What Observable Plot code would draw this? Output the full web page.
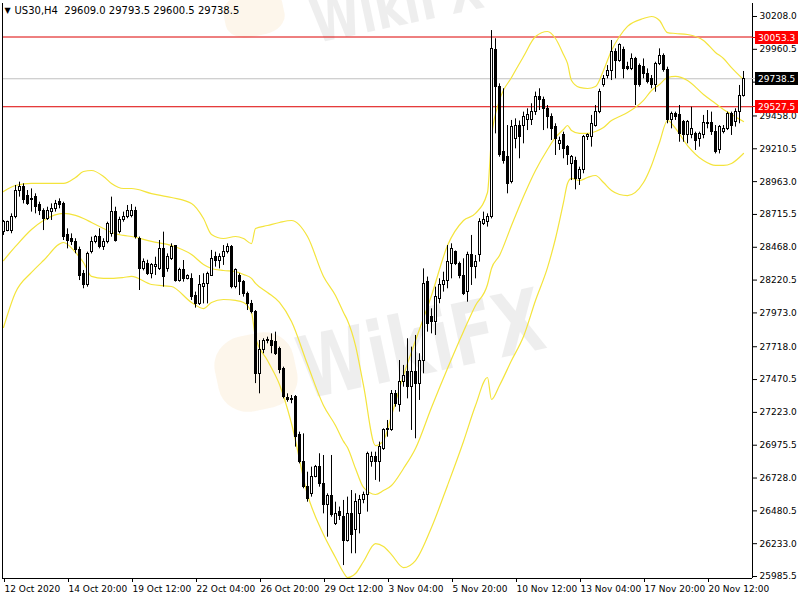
<!DOCTYPE html>
<html>
<head>
<meta charset="utf-8">
<script src="https://cdn.jsdelivr.net/npm/d3@7"></script>
<script src="https://cdn.jsdelivr.net/npm/@observablehq/plot@0.6"></script>
<style>
  html, body { margin: 0; padding: 0; background: #fff; }
  #chart { position: relative; width: 800px; height: 600px; overflow: hidden; background: #fff; }
  #chart svg { position: absolute; left: 0; top: 0; }
  .wm { position: absolute; font-family: "DejaVu Sans", sans-serif; font-weight: bold; color: #7a7a7a; opacity: 0.12; white-space: nowrap; transform-origin: left bottom; }
  .wm-logo { position: absolute; border-radius: 38%; background: #f0b85a; opacity: 0.12; }
</style>
</head>
<body>
<div id="chart">
  <div class="wm-logo" style="left:224px;top:-8px;width:60px;height:44px;transform:rotate(-12deg)"></div>
  <div class="wm" style="left:318px;top:-8px;font-size:60px;line-height:60px;transform:rotate(-12deg) scaleX(0.74)">WikiFX</div>
  <div class="wm-logo" style="left:216px;top:334px;width:80px;height:76px;transform:rotate(-12deg)"></div>
  <div class="wm" style="left:308px;top:326px;font-size:86px;line-height:86px;transform:rotate(-12deg) scaleX(0.74)">WikiFX</div>
</div>
<script>
// US30 H4 candles, 12 Oct - 24 Nov 2020
const symbol = "US30";
const timeframe = "H4";

const open = [
  28582, 28594, 28594, 28695, 28896, 28921, 28858, 28821, 28846, 28783,
  28745, 28683, 28733, 28758, 28808, 28795, 28557, 28532, 28507, 28444,
  28268, 28180, 28431, 28507, 28544, 28469, 28507, 28569, 28733, 28582,
  28670, 28695, 28700, 28745, 28532, 28305, 28343, 28268, 28318, 28305,
  28456, 28305, 28381, 28476, 28217, 28293, 28230, 28230, 28104, 28041,
  28167, 28192, 28255, 28393, 28368, 28393, 28431, 28469, 28167, 28255,
  28205, 28117, 28041, 27979, 27514, 27690, 27772, 27760, 27752, 27702,
  27551, 27333, 27325, 27338, 27049, 26848, 26659, 26609, 26735, 26810,
  26684, 26521, 26596, 26383, 26471, 26433, 26257, 26458, 26333, 26458,
  26559, 26597, 26848, 26886, 26848, 26948, 27087, 27087, 27363, 27275,
  27451, 27526, 27413, 27526, 27438, 27614, 28205, 27941, 27903, 28080,
  28180, 28217, 28343, 28431, 28343, 28255, 28130, 28406, 28318, 28406,
  28645, 28657, 28695, 29952, 29675, 29185, 29147, 28959, 29286, 29386,
  29386, 29424, 29424, 29487, 29600, 29575, 29512, 29449, 29374, 29248,
  29311, 29223, 29097, 29122, 28984, 29047, 29298, 29298, 29386, 29487,
  29688, 29763, 29800, 29939, 29876, 29952, 29826, 29813, 29888, 29838,
  29826, 29775, 29738, 29688, 29851, 29913, 29801, 29424, 29474, 29462,
  29411, 29311, 29311, 29323, 29286, 29311, 29406, 29406, 29336, 29198,
  29336, 29361, 29474, 29411, 29487, 29609.0
];
const high = [
  28670, 28665, 28720, 28934, 28959, 28946, 28896, 28908, 28871, 28808,
  28758, 28770, 28795, 28821, 28833, 28808, 28607, 28569, 28532, 28469,
  28293, 28431, 28544, 28557, 28607, 28532, 28657, 28846, 28770, 28695,
  28733, 28783, 28790, 28770, 28545, 28380, 28370, 28345, 28393, 28519,
  28582, 28418, 28494, 28481, 28310, 28368, 28260, 28268, 28130, 28255,
  28268, 28280, 28444, 28431, 28418, 28481, 28494, 28481, 28305, 28268,
  28217, 28130, 28067, 27991, 27765, 27778, 27790, 27815, 27828, 27715,
  27564, 27363, 27350, 27350, 27074, 27061, 26772, 26810, 26823, 26911,
  26898, 26609, 26898, 26546, 26509, 26559, 26584, 26634, 26609, 26597,
  26622, 26923, 26923, 26923, 26999, 27099, 27162, 27388, 27388, 27614,
  27577, 27778, 27715, 27803, 27665, 28305, 28243, 28004, 28167, 28230,
  28280, 28481, 28494, 28440, 28356, 28381, 28431, 28557, 28406, 28683,
  28733, 28720, 30102, 30040, 29700, 29663, 29386, 29424, 29436, 29420,
  29487, 29512, 29550, 29638, 29663, 29600, 29537, 29474, 29399, 29298,
  29336, 29235, 29160, 29147, 29072, 29311, 29323, 29462, 29537, 29660,
  29763, 29838, 30027, 29964, 30002, 29977, 29863, 29926, 29900, 29850,
  29888, 29813, 29763, 29863, 29964, 29926, 29826, 29487, 29487, 29537,
  29424, 29424, 29524, 29336, 29336, 29462, 29499, 29487, 29386, 29386,
  29386, 29487, 29487, 29512, 29688, 29793.5
];
const low = [
  28557, 28585, 28570, 28683, 28846, 28795, 28783, 28733, 28720, 28707,
  28594, 28670, 28670, 28733, 28758, 28519, 28456, 28481, 28419, 28217,
  28155, 28167, 28418, 28494, 28456, 28444, 28494, 28544, 28507, 28569,
  28657, 28683, 28690, 28530, 28142, 28290, 28255, 28230, 28255, 28293,
  28167, 28280, 28368, 28205, 28205, 28205, 28222, 28067, 28009, 28029,
  28041, 28041, 28248, 28318, 28305, 28331, 28418, 28155, 28155, 28104,
  28092, 27991, 27966, 27440, 27363, 27665, 27740, 27665, 27652, 27514,
  27325, 27300, 27288, 26961, 26835, 26647, 26546, 26584, 26730, 26659,
  26458, 26282, 26433, 26370, 26408, 26068, 26245, 26157, 26157, 26307,
  26534, 26471, 26810, 26710, 26697, 26936, 27036, 27080, 27262, 27225,
  27413, 27325, 27087, 27024, 27313, 27514, 27828, 27815, 27803, 28042,
  28130, 28155, 28230, 28330, 28230, 28104, 28054, 28180, 28230, 28356,
  28632, 28620, 28682, 29323, 29147, 29095, 28871, 28946, 29210, 29135,
  29248, 29348, 29386, 29462, 29499, 29348, 29361, 29273, 29160, 29198,
  29135, 29085, 28971, 28901, 28934, 29022, 29273, 29223, 29374, 29475,
  29675, 29738, 29725, 29738, 29863, 29738, 29800, 29800, 29537, 29675,
  29738, 29700, 29663, 29637, 29838, 29788, 29399, 29361, 29424, 29260,
  29260, 29248, 29286, 29198, 29223, 29286, 29361, 29311, 29172, 29172,
  29323, 29348, 29311, 29374, 29399, 29600.5
];
const close = [
  28657, 28657, 28695, 28896, 28921, 28821, 28795, 28833, 28770, 28745,
  28683, 28745, 28758, 28795, 28783, 28544, 28519, 28507, 28444, 28255,
  28180, 28418, 28507, 28544, 28469, 28507, 28645, 28733, 28519, 28670,
  28695, 28745, 28745, 28544, 28305, 28356, 28268, 28331, 28336, 28456,
  28243, 28393, 28469, 28217, 28293, 28230, 28250, 28092, 28041, 28180,
  28192, 28268, 28381, 28368, 28393, 28431, 28469, 28167, 28293, 28205,
  28117, 28041, 27979, 27514, 27690, 27765, 27760, 27727, 27665, 27539,
  27338, 27313, 27313, 27036, 26848, 26659, 26571, 26735, 26810, 26684,
  26521, 26596, 26446, 26458, 26440, 26257, 26458, 26295, 26546, 26559,
  26597, 26911, 26886, 26848, 26961, 27087, 27099, 27363, 27288, 27451,
  27501, 27413, 27526, 27438, 27614, 28192, 27891, 27903, 28092, 28180,
  28217, 28356, 28456, 28343, 28255, 28117, 28406, 28318, 28356, 28657,
  28670, 28695, 29964, 29675, 29160, 29120, 28946, 29374, 29386, 29300,
  29449, 29462, 29487, 29600, 29575, 29512, 29449, 29361, 29286, 29273,
  29210, 29160, 29147, 28984, 29047, 29298, 29311, 29399, 29487, 29640,
  29738, 29800, 29939, 29876, 29990, 29813, 29813, 29888, 29688, 29688,
  29775, 29713, 29688, 29851, 29913, 29801, 29424, 29474, 29449, 29323,
  29311, 29411, 29361, 29273, 29323, 29406, 29399, 29336, 29185, 29374,
  29361, 29474, 29386, 29487, 29609, 29738.5
];

// Bollinger bands (20, 2), sampled at these bar indices
const bandBar = [
  0, 3, 7, 10, 15, 18, 20, 22, 25, 27,
  30, 32, 37, 42, 47, 50, 52, 55, 58, 60,
  62, 63, 66, 69, 72, 76, 80, 83, 85, 86,
  88, 90, 93, 95, 97, 100, 103, 107, 111, 115,
  118, 121, 122, 124, 127, 130, 133, 136, 138, 140,
  141, 142, 144, 146, 148, 150, 152, 154, 156, 160,
  162, 164, 166, 168, 171, 175, 178, 180, 182, 185
];
const upperBand = [
  28888, 28934, 28949, 28949, 28949, 28994, 29039, 29047, 29002, 28949,
  28911, 28911, 28873, 28843, 28798, 28685, 28564, 28534, 28549, 28534,
  28496, 28610, 28632, 28655, 28670, 28549, 28248, 28104, 27976, 27916,
  27727, 27426, 26973, 27011, 27200, 27501, 27765, 28104, 28481, 28670,
  28723, 28881, 29296, 29575, 29748, 29906, 30057, 30095, 30042, 29921,
  29854, 29725, 29673, 29665, 29680, 29801, 29952, 30057, 30133, 30193,
  30208, 30178, 30087, 30080, 30072, 30027, 29937, 29891, 29823, 29733
];
const middleBand = [
  28368, 28474, 28602, 28670, 28723, 28708, 28685, 28655, 28610, 28579,
  28557, 28549, 28512, 28481, 28413, 28338, 28308, 28293, 28285, 28263,
  28233, 28195, 28127, 28052, 27908, 27584, 27275, 27124, 27004, 26958,
  26800, 26657, 26604, 26634, 26672, 26800, 26951, 27260, 27554, 27833,
  28029, 28187, 28308, 28406, 28632, 28851, 29047, 29205, 29296, 29356,
  29386, 29348, 29326, 29326, 29341, 29371, 29424, 29454, 29484, 29575,
  29650, 29695, 29748, 29756, 29725, 29620, 29552, 29507, 29469, 29416
];
const lowerBand = [
  27863, 28127, 28278, 28368, 28504, 28429, 28353, 28248, 28233, 28233,
  28240, 28248, 28187, 28172, 28052, 28006, 28052, 28074, 28067, 28052,
  27976, 27788, 27614, 27433, 27139, 26604, 26302, 26129, 26016, 25978,
  26008, 26099, 26234, 26212, 26151, 26053, 26106, 26355, 26672, 27004,
  27275, 27486, 27320, 27426, 27614, 27795, 28067, 28315, 28534, 28806,
  28949, 28987, 28971, 28994, 29009, 28956, 28896, 28866, 28858, 28956,
  29085, 29258, 29424, 29364, 29235, 29122, 29085, 29085, 29100, 29175
];

// Horizontal price levels
const levelPrices = [30053.3, 29527.5];

// Axis ticks
const yTicks = [
  30208.0, 29960.5, 29713.0, 29458.0, 29210.5, 28963.0, 28715.5, 28468.0, 28220.5,
  27973.0, 27718.0, 27470.5, 27223.0, 26975.5, 26728.0, 26480.5, 26233.0, 25985.5
];
const xTickBars = [0, 16, 32, 48, 64, 80, 96, 112, 128, 144, 160, 176];
const xTickLabels = [
  "12 Oct 2020", "14 Oct 20:00", "19 Oct 12:00", "22 Oct 04:00", "26 Oct 20:00", "29 Oct 12:00",
  "3 Nov 04:00", "5 Nov 20:00", "10 Nov 12:00", "13 Nov 04:00", "17 Nov 20:00", "20 Nov 12:00"
];

const candles = open.map((o, i) => ({i, o, h: high[i], l: low[i], c: close[i]}));
const bands = bandBar.map((b, k) => ({b, upper: upperBand[k], middle: middleBand[k], lower: lowerBand[k]}));
const last = candles[candles.length - 1];
const lastPrice = last.c;
const header = `${symbol},${timeframe}\u00a0\u00a0${last.o.toFixed(1)} ${last.h.toFixed(1)} ${last.l.toFixed(1)} ${last.c.toFixed(1)}`;

const xDomain = [-0.25, 187.25];
const yDomain = [25970.5, 30306];
const bandColor = "#f4e43c";
const levelColor = "#dd0000";

const plot = Plot.plot({
  width: 800,
  height: 600,
  marginLeft: 2,
  marginRight: 48,
  marginTop: 3,
  marginBottom: 22,
  style: {fontFamily: "'DejaVu Sans', sans-serif", fontSize: "9px", color: "#000", background: "transparent", overflow: "visible"},
  x: {domain: xDomain, axis: null},
  y: {domain: yDomain, axis: null},
  marks: [
    Plot.ruleY([lastPrice], {stroke: "#c0c0c0"}),
    Plot.ruleY(levelPrices, {stroke: levelColor}),
    Plot.line(bands, {x: "b", y: "upper", stroke: bandColor, strokeWidth: 1.2, curve: "monotone-x"}),
    Plot.line(bands, {x: "b", y: "middle", stroke: bandColor, strokeWidth: 1.2, curve: "monotone-x"}),
    Plot.line(bands, {x: "b", y: "lower", stroke: bandColor, strokeWidth: 1.2, curve: "monotone-x"}),
    // wicks, then bodies (bull = hollow, bear = filled)
    Plot.ruleX(candles, {x: "i", y1: "l", y2: "h", stroke: "#000"}),
    Plot.rect(candles, {
      x1: d => d.i - 0.25,
      x2: d => d.i + 0.25,
      y1: "o",
      y2: "c",
      fill: d => (d.c >= d.o ? "#ffffff" : "#000000"),
      stroke: "#000",
      shapeRendering: "crispEdges"
    }),
    // chart border: left, right (price scale) and bottom (time scale)
    Plot.ruleX([xDomain[0], xDomain[1]], {stroke: "#000"}),
    Plot.ruleY([yDomain[0]], {stroke: "#000"}),
    Plot.axisY(yTicks, {anchor: "right", tickSize: 4, tickPadding: 3, tickFormat: d => d.toFixed(1), fontSize: 9}),
    Plot.axisX(xTickBars, {
      anchor: "bottom", tickSize: 4, tickPadding: 3, textAnchor: "start", dx: 1, fontSize: 9,
      tickFormat: d => xTickLabels[xTickBars.indexOf(d)]
    }),
    Plot.text(["\u25BC"], {frameAnchor: "top-left", dx: 2, dy: 4, fontSize: 8, lineAnchor: "top", textAnchor: "start"}),
    Plot.text([header], {frameAnchor: "top-left", dx: 12, dy: 3, fontSize: 10, lineAnchor: "top", textAnchor: "start"})
  ]
});

document.getElementById("chart").appendChild(plot);

// Price tags on the price scale for the horizontal levels and the last price
const yScale = plot.scale("y");
const xRight = plot.scale("x").range[1];
const tags = [
  ...levelPrices.map(v => ({v, bg: "#ff0000", line: levelColor})),
  {v: lastPrice, bg: "#000000", line: "#c0c0c0"}
];
const g = d3.select(plot).append("g").attr("text-anchor", "start");
for (const t of tags) {
  const py = Math.round(yScale.apply(t.v));
  g.append("line")
    .attr("x1", xRight).attr("x2", xRight + 3)
    .attr("y1", py + 0.5).attr("y2", py + 0.5)
    .attr("stroke", t.line);
  g.append("rect")
    .attr("x", xRight + 3).attr("y", py - 6)
    .attr("width", 43).attr("height", 13)
    .attr("fill", t.bg);
  g.append("text")
    .attr("x", xRight + 6).attr("y", py + 0.5)
    .attr("dy", "0.35em")
    .attr("text-anchor", "start")
    .attr("fill", "#fff")
    .attr("font-size", 9)
    .text(t.v.toFixed(1));
}
</script>
</body>
</html>
